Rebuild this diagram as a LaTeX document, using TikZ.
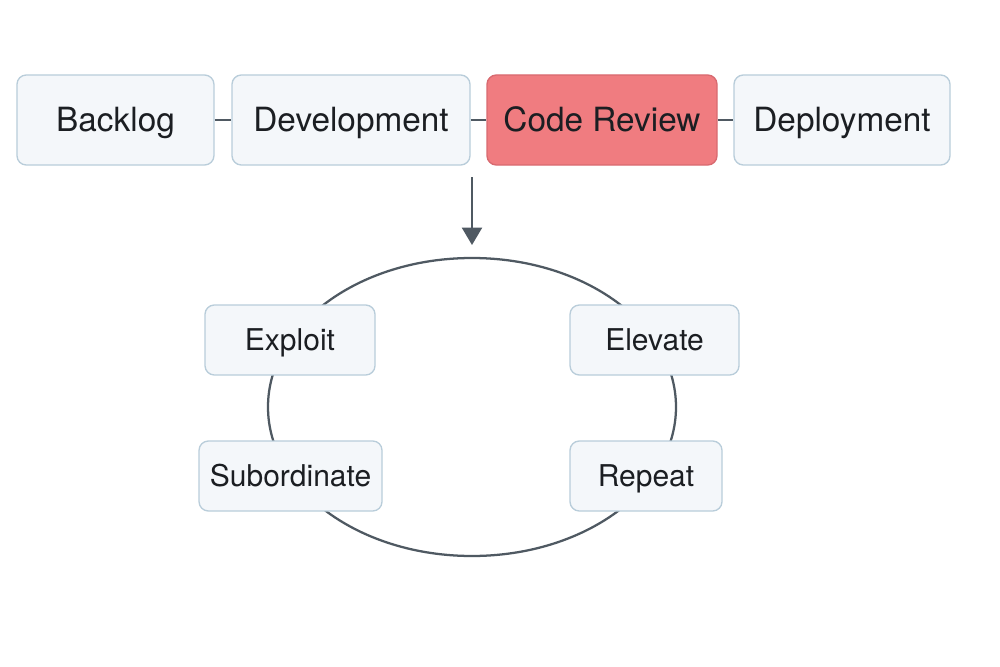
\documentclass[tikz,border=0pt]{standalone}
\usepackage{fontspec}
\setmainfont{TeX Gyre Heros}
\usetikzlibrary{arrows.meta}
\usetikzlibrary{shapes.geometric}
\definecolor{boxfill}{HTML}{F4F7FA}
\definecolor{boxline}{HTML}{B9CDDA}
\definecolor{reviewfill}{HTML}{F07C80}
\definecolor{reviewline}{HTML}{D86A70}
\definecolor{linkgray}{HTML}{4F5962}
\definecolor{inkdark}{HTML}{1B1E22}
\begin{document}
\begin{tikzpicture}
[every node/.style={inner sep=0pt, text=inkdark},
 stagebox/.style={rectangle, rounded corners=7pt, minimum height=67.5pt, text height=18pt, text depth=0pt, fill=boxfill, line width=1pt, draw=boxline, font=\fontsize{25}{28}\selectfont},
 cyclebox/.style={rectangle, rounded corners=7pt, minimum height=52.5pt, text height=16.2pt, text depth=0pt, fill=boxfill, line width=1pt, draw=boxline, font=\fontsize{22.5}{26}\selectfont}]
\useasboundingbox (0pt, 0pt) rectangle (750pt, -500.25pt);
% cycle ring, drawn first so the boxes sit on it
\node (ring) [ellipse, minimum width=306pt, minimum height=223.5pt, line width=1.7pt, draw=linkgray] at (354pt, -305.25pt) {};
% pipeline row
\node (backlog) [stagebox, minimum width=147.75pt] at (86.6pt, -90pt) {Backlog};
\node (dev) [stagebox, minimum width=178.5pt] at (263.25pt, -90pt) {Development};
\node (review) [stagebox, minimum width=172.5pt, fill=reviewfill, draw=reviewline] at (451.5pt, -90pt) {Code Review};
\node (deploy) [stagebox, minimum width=162pt] at (631.5pt, -90pt) {Deployment};
\draw [line width=1.5pt, color=linkgray] (backlog) -- (dev);
\draw [line width=1.5pt, color=linkgray] (dev) -- (review);
\draw [line width=1.5pt, color=linkgray] (review) -- (deploy);
% down arrow
\coordinate (arrowtop) at (354pt, -132.75pt);
\coordinate (arrowtip) at (354pt, -183.75pt);
\draw [line width=1.5pt, color=linkgray, -{Triangle[length=13pt, width=15pt]}] (arrowtop) -- (arrowtip);
% cycle steps
\node (exploit) [cyclebox, minimum width=127.5pt] at (217.5pt, -255pt) {Exploit};
\node (elevate) [cyclebox, minimum width=126.75pt] at (490.9pt, -255pt) {Elevate};
\node (subord) [cyclebox, minimum width=137.25pt] at (217.9pt, -357pt) {Subordinate};
\node (repeat) [cyclebox, minimum width=114pt] at (484.5pt, -357pt) {Repeat};
\end{tikzpicture}
\end{document}
